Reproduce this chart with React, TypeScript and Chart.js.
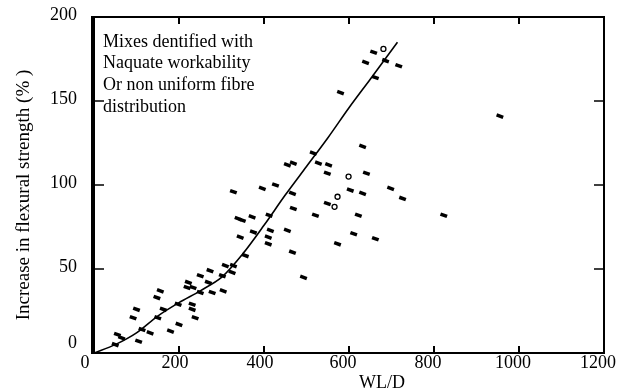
import React, { useEffect, useRef } from "react";
import { Chart, registerables } from "chart.js";

Chart.register(...registerables);

// ---- data ----
const dashX = [50, 55, 65, 105, 113, 132, 180, 200, 100, 92, 150, 163, 148, 156, 198, 231, 231, 238, 222, 233, 219, 250, 278, 304, 250, 269, 273, 302, 309, 325, 328, 356, 328, 344, 339, 349, 372, 375, 396, 427, 412, 415, 410, 410, 455, 467, 469, 469, 455, 467, 493, 516, 528, 552, 549, 632, 641, 698, 603, 632, 726, 549, 521, 622, 823, 611, 662, 573, 658, 639, 686, 717, 662, 580, 955];
const dashY = [5, 11, 9, 7, 14, 12, 13, 17, 26, 21, 21, 26, 33, 37, 29, 29, 26, 21, 42, 39, 39, 36, 36, 37, 46, 42, 49, 46, 52, 48, 52, 58, 96, 69, 80, 79, 81, 72, 98, 100, 82, 73, 69, 65, 73, 95, 86, 113, 112, 60, 45, 119, 113, 112, 107, 123, 107, 98, 97, 95, 92, 89, 82, 82, 82, 71, 68, 65, 179, 173, 174, 171, 164, 155, 141];
const openX = [599, 573, 566, 681];
const openY = [105, 93, 87, 181];
const curveX = [0, 50, 100, 150, 200, 250, 300, 350, 400, 450, 500, 550, 600, 650, 714];
const curveY = [0, 5, 12, 22, 30, 37, 45, 59, 76, 94, 111, 128, 146, 163, 185];
const xTickValues = [0, 200, 400, 600, 800, 1000, 1200];
const yTickValues = [0, 50, 100, 150, 200];
const noteLines = ["Mixes dentified with", "Naquate workability", "Or non uniform fibre", "distribution"];
const xTitle = "WL/D";
const yTitle = "Increase in flexural strength (% )";

const FONT = "'Liberation Serif', 'DejaVu Serif', serif";

const framePlugin = {
  id: "frame",
  afterDraw(chart: any) {
    const { ctx, chartArea: a, scales } = chart;
    const xs = scales.x;
    const ys = scales.y;
    ctx.save();
    ctx.strokeStyle = "#000";
    // frame
    ctx.lineWidth = 2;
    ctx.beginPath();
    ctx.moveTo(a.left, a.top);
    ctx.lineTo(a.right, a.top);
    ctx.lineTo(a.right, a.bottom);
    ctx.lineTo(a.left, a.bottom);
    ctx.stroke();
    ctx.lineWidth = 4;
    ctx.beginPath();
    ctx.moveTo(a.left - 1, a.top - 1);
    ctx.lineTo(a.left - 1, a.bottom + 1);
    ctx.stroke();
    // inward ticks
    ctx.lineWidth = 2;
    xTickValues.slice(1, -1).forEach((v) => {
      const px = xs.getPixelForValue(v);
      ctx.beginPath();
      ctx.moveTo(px, a.bottom);
      ctx.lineTo(px, a.bottom - 7);
      ctx.moveTo(px, a.top);
      ctx.lineTo(px, a.top + 7);
      ctx.stroke();
    });
    ctx.lineWidth = 1.5;
    yTickValues.slice(1, -1).forEach((v) => {
      const py = ys.getPixelForValue(v);
      ctx.beginPath();
      ctx.moveTo(a.left, py);
      ctx.lineTo(a.left + 10, py);
      ctx.moveTo(a.right, py);
      ctx.lineTo(a.right - 10, py);
      ctx.stroke();
    });
    ctx.fillStyle = "#000";
    ctx.font = "18px " + FONT;
    ctx.textBaseline = "middle";
    // tick labels
    ctx.textAlign = "center";
    xTickValues.forEach((v, i) => {
      const px = xs.getPixelForValue(v) - (i === 0 ? 9 : i < 3 ? 4 : 6);
      ctx.fillText(String(v), px, 363);
    });
    ctx.textAlign = "right";
    yTickValues.forEach((v, i) => {
      const py = ys.getPixelForValue(v) - (i === 0 ? 10 : 2);
      ctx.fillText(String(v), 77, py);
    });
    // note text
    ctx.textAlign = "left";
    noteLines.forEach((t, i) => {
      ctx.fillText(t, a.left + 9, a.top + 25 + i * 21.7);
    });
    // x title
    ctx.textAlign = "center";
    ctx.fillText(xTitle, 382, 383);
    // y title
    ctx.save();
    ctx.font = "19px " + FONT;
    ctx.translate(24, 195);
    ctx.rotate(-Math.PI / 2);
    ctx.fillText(yTitle, 0, 0);
    ctx.restore();
    ctx.restore();
  },
};

export default function App() {
  const ref = useRef<HTMLCanvasElement | null>(null);
  useEffect(() => {
    if (!ref.current) return;
    const chart = new Chart(ref.current, {
      type: "scatter",
      data: {
        datasets: [
          {
            type: "line",
            data: curveX.map((x, i) => ({ x, y: curveY[i] })),
            borderColor: "#000",
            borderWidth: 1.6,
            pointRadius: 0,
            tension: 0.3,
            fill: false,
          } as any,
          {
            data: dashX.map((x, i) => ({ x, y: dashY[i] })),
            pointStyle: "line",
            pointRadius: 3.5,
            pointRotation: 20,
            borderColor: "#000",
            backgroundColor: "#000",
            pointBorderWidth: 3.5,
          } as any,
          {
            data: openX.map((x, i) => ({ x, y: openY[i] })),
            pointStyle: "circle",
            pointRadius: 2.5,
            borderColor: "#000",
            backgroundColor: "#fff",
            pointBorderWidth: 1.3,
          } as any,
        ],
      },
      options: {
        responsive: false,
        animation: false,
        layout: { padding: { left: 0, top: 17, right: 19, bottom: 0 } },
        plugins: { legend: { display: false }, tooltip: { enabled: false } },
        scales: {
          x: {
            type: "linear",
            min: xTickValues[0],
            max: xTickValues[xTickValues.length - 1],
            grid: { display: false, drawTicks: false },
            border: { display: false },
            ticks: { display: false, stepSize: 200 },
            afterFit: (s: any) => {
              s.height = 39;
            },
          },
          y: {
            type: "linear",
            min: yTickValues[0],
            max: yTickValues[yTickValues.length - 1],
            grid: { display: false, drawTicks: false },
            border: { display: false },
            ticks: { display: false, stepSize: 50 },
            afterFit: (s: any) => {
              s.width = 94;
            },
          },
        },
      },
      plugins: [framePlugin],
    } as any);
    return () => chart.destroy();
  }, []);
  return (
    <div style={{ position: "fixed", left: 0, top: 0, width: 623, height: 392, background: "#fff" }}>
      <canvas ref={ref} width={623} height={392} style={{ width: 623, height: 392 }} />
    </div>
  );
}
